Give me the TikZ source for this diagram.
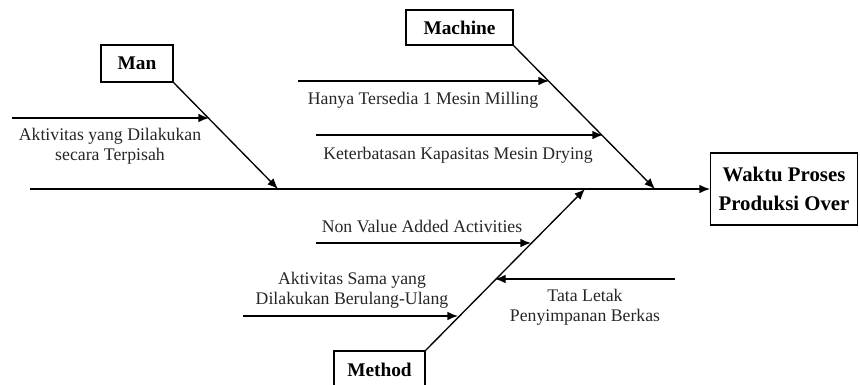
\documentclass[tikz,border=0pt]{standalone}
\usepackage{fontspec}
\setmainfont{Liberation Serif}
\usetikzlibrary{arrows.meta}
\begin{document}
\begin{tikzpicture}[x=0.75pt,y=-0.75pt,
  bone/.style={line width=1pt,-{Latex[length=8pt,width=6.5pt]}},
  catbox/.style={draw,line width=1pt,font=\fontsize{14.5}{17}\selectfont\bfseries,inner sep=0pt},
  lbl/.style={font=\fontsize{13.3}{14.8}\selectfont,align=center,inner sep=0pt,text=black!85}]
\useasboundingbox (0,0) rectangle (860,385);
% boxes
\node[catbox,minimum width=54pt,minimum height=27.75pt] (man) at (137,63.5) {Man};
\node[catbox,minimum width=80.25pt,minimum height=26.25pt] (machine) at (459.5,27.5) {Machine};
\node[catbox,minimum width=68.25pt,minimum height=28.5pt] (method) at (379.5,370) {Method};
\node[draw,line width=1pt,minimum width=110pt,minimum height=54pt,inner sep=0pt,align=center,
      font=\fontsize{15.6}{21.5}\selectfont\bfseries] (effect) at (784,189) {Waktu Proses\\Produksi Over};
% spine
\coordinate (s0) at (30,189);
\draw[bone] (s0) -- (effect.west);
% main bones
\coordinate (manT) at (278,189);
\coordinate (macT) at (655,189);
\coordinate (metT) at (585,189);
\draw[bone] (man.south east) -- (manT);
\draw[bone] (machine.south east) -- (macT);
\draw[bone] (method.north east) -- (metT);
% sub bones
\coordinate (a0) at (12,118);  \coordinate (a1) at (209,118);
\coordinate (b0) at (298,81);  \coordinate (b1) at (549,81);
\coordinate (c0) at (316,135); \coordinate (c1) at (603,135);
\coordinate (d0) at (316,243); \coordinate (d1) at (531,243);
\coordinate (e0) at (243,316); \coordinate (e1) at (458,316);
\coordinate (f0) at (675,279); \coordinate (f1) at (495,279);
\draw[bone] (a0) -- (a1);
\draw[bone] (b0) -- (b1);
\draw[bone] (c0) -- (c1);
\draw[bone] (d0) -- (d1);
\draw[bone] (e0) -- (e1);
\draw[bone] (f0) -- (f1);
% labels
\node[lbl] (la) at (110,146) {Aktivitas yang Dilakukan\\secara Terpisah};
\node[lbl] (lb) at (423,100) {Hanya Tersedia 1 Mesin Milling};
\node[lbl] (lc) at (458,155) {Keterbatasan Kapasitas Mesin Drying};
\node[lbl] (ld) at (422,226) {Non Value Added Activities};
\node[lbl] (le) at (352,290) {Aktivitas Sama yang\\Dilakukan Berulang-Ulang};
\node[lbl] (lf) at (585,307) {Tata Letak\\Penyimpanan Berkas};
\end{tikzpicture}
\end{document}
